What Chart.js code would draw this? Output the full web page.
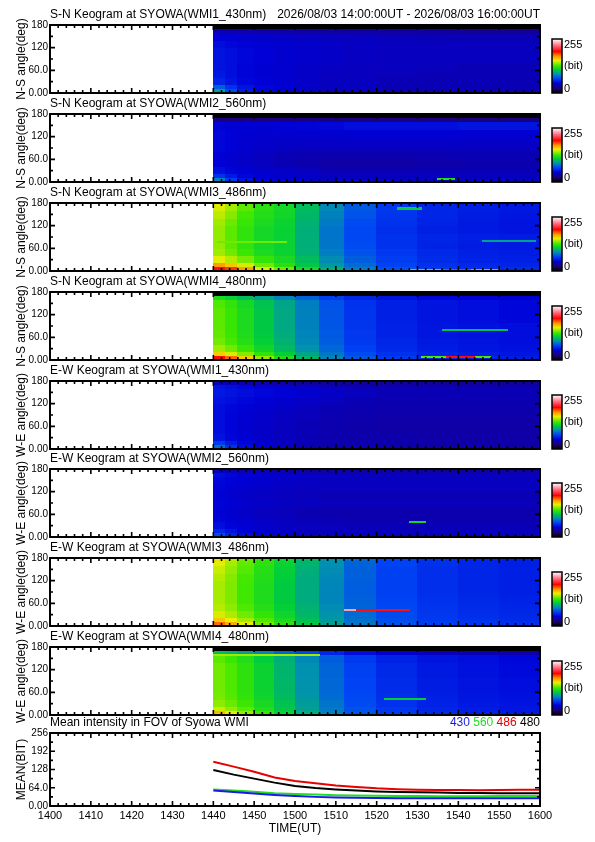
<!DOCTYPE html>
<html>
<head>
<meta charset="utf-8">
<script src="https://cdn.jsdelivr.net/npm/chart.js@4.4.1/dist/chart.umd.min.js"></script>
<style>
  body { margin: 0; background: #fff; width: 595px; height: 842px; position: relative; overflow: hidden; }
  canvas { position: absolute; left: 0; }
</style>
</head>
<body>
<script>
// ---- data ----
// keogram cells: time edges in minutes after 14:00 UT, angle edges in degrees
const timeEdges = [40, 43, 46, 50, 55, 60, 66, 72, 80, 90, 100, 110, 120];
const angleEdges = [0, 5, 12, 22, 40, 60, 80, 100, 120, 140, 160, 172, 180];

// rows go from 0 deg (first) up to 180 deg (last), values in bit (0-255)
const keoSN430 = [
  [60, 40, 32, 30, 28, 28, 28, 28, 28, 28, 28, 28],
  [95, 70, 55, 48, 45, 42, 40, 40, 38, 38, 38, 38],
  [75, 62, 52, 48, 45, 42, 40, 40, 38, 38, 38, 38],
  [58, 52, 48, 46, 44, 42, 40, 40, 38, 38, 38, 38],
  [54, 50, 47, 45, 44, 42, 40, 40, 39, 38, 38, 38],
  [52, 50, 47, 45, 44, 42, 41, 40, 40, 39, 38, 38],
  [52, 50, 48, 46, 44, 43, 42, 41, 40, 40, 40, 40],
  [52, 50, 48, 46, 44, 43, 42, 41, 40, 40, 40, 40],
  [50, 48, 46, 45, 44, 43, 42, 41, 40, 40, 40, 40],
  [46, 45, 44, 43, 42, 41, 40, 40, 39, 38, 38, 38],
  [36, 35, 34, 33, 33, 32, 32, 32, 31, 31, 30, 30],
  [0, 0, 0, 0, 0, 0, 0, 0, 0, 0, 0, 0]
];
const keoSN560 = [
  [70, 50, 42, 40, 38, 36, 35, 35, 34, 34, 34, 34],
  [85, 65, 52, 46, 44, 42, 40, 40, 40, 40, 40, 40],
  [62, 54, 48, 45, 43, 42, 40, 40, 40, 40, 40, 40],
  [50, 47, 45, 43, 42, 40, 38, 37, 37, 38, 38, 38],
  [46, 44, 42, 40, 38, 36, 34, 34, 34, 35, 36, 36],
  [46, 44, 42, 40, 38, 37, 36, 36, 36, 37, 38, 38],
  [48, 46, 44, 42, 41, 40, 40, 40, 40, 40, 40, 40],
  [48, 46, 44, 43, 42, 42, 42, 42, 42, 42, 42, 42],
  [48, 46, 45, 44, 44, 44, 44, 45, 45, 45, 45, 45],
  [46, 45, 45, 45, 46, 47, 48, 50, 50, 50, 52, 52],
  [25, 25, 25, 25, 25, 25, 25, 25, 25, 25, 25, 25],
  [0, 0, 0, 0, 0, 0, 0, 0, 0, 0, 0, 0]
];
const keoSN486 = [
  [230, 212, 190, 165, 145, 128, 110, 92, 78, 70, 66, 64],
  [200, 188, 172, 152, 135, 118, 100, 84, 72, 65, 61, 60],
  [172, 162, 150, 135, 122, 108, 92, 79, 68, 62, 59, 58],
  [152, 145, 136, 125, 117, 104, 88, 75, 66, 60, 57, 56],
  [142, 135, 127, 118, 113, 100, 84, 72, 64, 59, 56, 55],
  [140, 132, 124, 116, 112, 99, 82, 70, 62, 57, 55, 54],
  [140, 132, 124, 116, 112, 99, 81, 69, 62, 58, 56, 55],
  [140, 132, 124, 116, 112, 99, 81, 69, 61, 56, 54, 52],
  [142, 134, 126, 118, 113, 100, 83, 70, 62, 57, 54, 52],
  [146, 138, 128, 120, 115, 102, 85, 72, 63, 58, 55, 53],
  [150, 142, 132, 122, 116, 104, 87, 74, 64, 58, 56, 54],
  [152, 142, 132, 122, 116, 104, 87, 74, 64, 58, 56, 54]
];
const keoSN480 = [
  [0, 0, 0, 0, 0, 0, 0, 0, 0, 0, 0, 0],
  [195, 180, 160, 140, 120, 102, 86, 74, 65, 60, 57, 55],
  [160, 150, 138, 124, 110, 96, 82, 70, 62, 57, 55, 53],
  [142, 135, 126, 115, 103, 90, 78, 67, 59, 55, 53, 51],
  [135, 129, 121, 111, 100, 87, 75, 65, 58, 54, 52, 50],
  [133, 127, 119, 109, 98, 86, 74, 64, 57, 53, 51, 50],
  [132, 126, 118, 108, 97, 85, 73, 63, 57, 53, 51, 50],
  [132, 126, 118, 108, 97, 85, 73, 63, 56, 52, 50, 48],
  [132, 126, 118, 108, 97, 85, 73, 63, 56, 52, 50, 48],
  [130, 124, 116, 106, 96, 84, 72, 62, 56, 52, 50, 48],
  [118, 112, 104, 96, 86, 76, 66, 58, 52, 48, 46, 45],
  [0, 0, 0, 0, 0, 0, 0, 0, 0, 0, 0, 0]
];
const keoEW430 = [
  [45, 38, 34, 32, 30, 30, 30, 30, 30, 30, 30, 30],
  [80, 62, 50, 44, 40, 38, 36, 36, 35, 35, 35, 35],
  [65, 55, 48, 44, 40, 38, 36, 36, 35, 35, 35, 35],
  [52, 48, 45, 42, 40, 38, 36, 35, 35, 34, 34, 34],
  [50, 47, 44, 42, 40, 38, 36, 35, 34, 34, 34, 34],
  [50, 47, 44, 42, 40, 38, 36, 35, 34, 34, 34, 34],
  [50, 47, 45, 43, 41, 39, 37, 36, 35, 35, 35, 35],
  [50, 48, 46, 44, 42, 40, 38, 37, 36, 36, 36, 36],
  [52, 50, 48, 46, 44, 42, 40, 38, 37, 37, 37, 37],
  [54, 52, 50, 48, 46, 44, 42, 40, 38, 38, 38, 38],
  [52, 50, 48, 46, 44, 42, 40, 38, 37, 37, 37, 37],
  [40, 38, 36, 35, 34, 33, 32, 32, 32, 32, 32, 32]
];
const keoEW560 = [
  [55, 45, 40, 38, 36, 35, 35, 35, 34, 34, 34, 34],
  [70, 58, 50, 45, 42, 40, 40, 40, 40, 40, 40, 40],
  [58, 52, 47, 44, 42, 40, 40, 40, 40, 40, 40, 40],
  [50, 47, 45, 43, 41, 40, 39, 38, 38, 38, 38, 38],
  [47, 45, 43, 41, 40, 38, 37, 36, 36, 36, 36, 36],
  [46, 44, 42, 40, 39, 37, 36, 36, 36, 36, 36, 36],
  [47, 45, 43, 42, 41, 40, 39, 39, 39, 39, 39, 39],
  [46, 44, 42, 41, 40, 39, 38, 38, 38, 38, 38, 38],
  [47, 45, 44, 42, 41, 40, 40, 40, 40, 40, 40, 40],
  [48, 46, 45, 44, 42, 41, 40, 40, 40, 40, 40, 40],
  [50, 48, 46, 44, 43, 42, 41, 40, 40, 40, 40, 40],
  [40, 38, 36, 35, 34, 33, 33, 33, 33, 33, 33, 33]
];
const keoEW486 = [
  [70, 66, 62, 58, 55, 52, 50, 48, 46, 45, 45, 45],
  [180, 168, 152, 136, 122, 108, 94, 82, 72, 66, 63, 61],
  [162, 153, 142, 130, 118, 105, 92, 80, 71, 65, 62, 60],
  [150, 144, 135, 125, 114, 102, 90, 79, 70, 64, 61, 59],
  [145, 139, 130, 121, 111, 100, 88, 77, 69, 63, 60, 58],
  [143, 137, 128, 119, 109, 98, 86, 76, 68, 62, 59, 57],
  [143, 137, 128, 119, 109, 98, 86, 75, 67, 61, 58, 56],
  [143, 137, 128, 119, 109, 98, 86, 75, 67, 61, 58, 56],
  [145, 138, 129, 120, 110, 98, 87, 76, 67, 61, 58, 56],
  [148, 140, 131, 121, 111, 99, 88, 76, 67, 61, 58, 56],
  [152, 143, 133, 123, 113, 101, 89, 77, 68, 62, 58, 56],
  [155, 145, 134, 124, 114, 102, 90, 78, 68, 62, 58, 56]
];
const keoEW480 = [
  [30, 28, 26, 25, 24, 24, 24, 24, 24, 24, 24, 24],
  [165, 152, 140, 126, 112, 98, 85, 73, 65, 59, 56, 54],
  [148, 140, 132, 120, 108, 95, 83, 72, 64, 58, 55, 53],
  [139, 134, 127, 117, 106, 93, 81, 70, 62, 57, 54, 52],
  [136, 131, 124, 114, 103, 91, 79, 69, 61, 56, 53, 51],
  [135, 130, 123, 113, 102, 90, 78, 68, 60, 55, 52, 50],
  [135, 130, 123, 113, 102, 90, 78, 68, 60, 55, 52, 50],
  [135, 130, 123, 113, 101, 89, 77, 67, 59, 54, 51, 49],
  [135, 130, 123, 113, 101, 89, 77, 67, 59, 54, 51, 49],
  [132, 127, 120, 110, 99, 87, 75, 65, 57, 52, 50, 48],
  [105, 100, 94, 86, 77, 68, 58, 50, 44, 40, 38, 36],
  [0, 0, 0, 0, 0, 0, 0, 0, 0, 0, 0, 0]
];

// thin bright features: [start min, end min, low deg, high deg, bit]
const streaksSN430 = [];
const streaksSN560 = [[95, 99, 6, 10, 120]];
const streaksSN486 = [[41, 58, 76, 79, 135], [85, 91, 164, 167, 110], [106, 119, 78, 81, 95],
                      [88, 110, 1, 5, 130], [96, 103, 1, 5, 205]];
const streaksSN480 = [[91, 108, 6, 10, 130], [97, 104, 6, 10, 200], [96, 112, 79, 82, 105]];
const streaksEW430 = [];
const streaksEW560 = [[88, 92, 39, 42, 115]];
const streaksEW486 = [[72, 75, 41, 44, 235], [75, 88, 41, 44, 200]];
const streaksEW480 = [[40, 66, 157, 160, 142], [82, 92, 40, 43, 110]];

const angleTicks = [0, 60, 120, 180];
const angleTickText = ['0.00', '60.0', '120', '180'];

// mean intensity in FOV, every 5 minutes from 14:40
const meanTimes = [40, 45, 50, 55, 60, 65, 70, 75, 80, 85, 90, 95, 100, 105, 110, 115, 120];
const mean430 = [54, 49, 44, 39, 35, 32, 30, 29, 28, 27, 27, 27, 27, 27, 27, 27, 27];
const mean560 = [58, 54, 50, 45, 42, 40, 38, 37, 36, 35, 35, 34, 34, 34, 35, 35, 35];
const mean486 = [155, 138, 120, 100, 88, 80, 72, 67, 62, 59, 57, 56, 56, 55, 56, 57, 57];
const mean480 = [126, 110, 96, 82, 70, 63, 58, 54, 51, 49, 48, 47, 46, 46, 45, 45, 45];
const meanTicks = [0, 64, 128, 192, 256];
const meanTickText = ['0.00', '64.0', '128', '192', '256'];
const timeTicks = [0, 10, 20, 30, 40, 50, 60, 70, 80, 90, 100, 110, 120];
const timeTickText = ['1400', '1410', '1420', '1430', '1440', '1450', '1500',
                      '1510', '1520', '1530', '1540', '1550', '1600'];

const panelTitles = [
  'S-N Keogram at SYOWA(WMI1_430nm)', 'S-N Keogram at SYOWA(WMI2_560nm)',
  'S-N Keogram at SYOWA(WMI3_486nm)', 'S-N Keogram at SYOWA(WMI4_480nm)',
  'E-W Keogram at SYOWA(WMI1_430nm)', 'E-W Keogram at SYOWA(WMI2_560nm)',
  'E-W Keogram at SYOWA(WMI3_486nm)', 'E-W Keogram at SYOWA(WMI4_480nm)'
];
const panelAxis = ['N-S angle(deg)', 'N-S angle(deg)', 'N-S angle(deg)', 'N-S angle(deg)',
                   'W-E angle(deg)', 'W-E angle(deg)', 'W-E angle(deg)', 'W-E angle(deg)'];
const keoGrids = [keoSN430, keoSN560, keoSN486, keoSN480, keoEW430, keoEW560, keoEW486, keoEW480];
const keoStreaks = [streaksSN430, streaksSN560, streaksSN486, streaksSN480,
                    streaksEW430, streaksEW560, streaksEW486, streaksEW480];
const headerText = '2026/08/03 14:00:00UT - 2026/08/03 16:00:00UT';

// ---- style ----
const FONT = '"Liberation Sans", Arial, Helvetica, sans-serif';
const panelTops = [25, 114, 203, 292, 381, 469, 558, 647];
const CMAP = [
  [0, [0, 0, 0]], [0.08, [30, 0, 110]], [0.18, [0, 0, 215]], [0.27, [0, 70, 245]],
  [0.35, [0, 145, 175]], [0.43, [0, 205, 60]], [0.5, [60, 232, 0]], [0.6, [235, 238, 0]],
  [0.68, [255, 150, 0]], [0.77, [255, 0, 0]], [0.88, [255, 110, 130]], [1, [255, 255, 255]]
];

Chart.defaults.font.family = FONT;
Chart.defaults.color = '#000';

function cmap(v) {
  const f = Math.max(0, Math.min(1, v / 255));
  for (let i = 0; i < CMAP.length - 1; i++) {
    const [f0, c0] = CMAP[i], [f1, c1] = CMAP[i + 1];
    if (f <= f1) {
      const t = (f - f0) / (f1 - f0);
      const c = c0.map((a, k) => Math.round(a + (c1[k] - a) * t));
      return `rgb(${c[0]},${c[1]},${c[2]})`;
    }
  }
  return 'rgb(255,255,255)';
}

function heatmap(grid, streaks) {
  return {
    id: 'heatmap',
    beforeDatasetsDraw(chart) {
      const { ctx, chartArea: a, scales: { x, y } } = chart;
      ctx.save();
      ctx.beginPath();
      ctx.rect(a.left, a.top, a.width, a.height);
      ctx.clip();
      const cell = (t0, t1, g0, g1, v) => {
        const x0 = Math.floor(x.getPixelForValue(t0));
        const x1 = Math.ceil(x.getPixelForValue(t1));
        const y0 = Math.floor(y.getPixelForValue(g1));
        const y1 = Math.ceil(y.getPixelForValue(g0));
        ctx.fillStyle = cmap(v);
        ctx.fillRect(x0, y0, x1 - x0, Math.max(1, y1 - y0));
      };
      grid.forEach((row, r) => row.forEach((v, c) =>
        cell(timeEdges[c], timeEdges[c + 1], angleEdges[r], angleEdges[r + 1], v)));
      streaks.forEach(s => cell(s[0], s[1], s[2], s[3], s[4]));
      ctx.restore();
    }
  };
}

function frame(yMinor, yMajor) {
  return {
    id: 'frame',
    afterDraw(chart) {
      const { ctx, chartArea: a, scales: { x, y } } = chart;
      ctx.save();
      ctx.strokeStyle = '#000';
      ctx.lineWidth = 1.6;
      ctx.beginPath();
      for (let t = 0; t <= 120; t += 2) {
        const px = x.getPixelForValue(t);
        const len = t % 10 === 0 ? 5 : 3;
        ctx.moveTo(px, a.top); ctx.lineTo(px, a.top + len);
        ctx.moveTo(px, a.bottom); ctx.lineTo(px, a.bottom - len);
      }
      for (let v = y.min; v <= y.max; v += yMinor) {
        const py = y.getPixelForValue(v);
        const len = v % yMajor === 0 ? 5 : 3;
        ctx.moveTo(a.left, py); ctx.lineTo(a.left + len, py);
        ctx.moveTo(a.right, py); ctx.lineTo(a.right - len, py);
      }
      ctx.stroke();
      ctx.lineWidth = 2;
      ctx.strokeRect(a.left, a.top, a.width, a.height);
      ctx.restore();
    }
  };
}

const colorbar = {
  id: 'colorbar',
  afterDraw(chart) {
    const { ctx, chartArea: a } = chart;
    const x0 = a.right + 12, w = 10, top = a.top + 14, bot = a.bottom;
    ctx.save();
    const g = ctx.createLinearGradient(0, bot, 0, top);
    CMAP.forEach(([f, c]) => g.addColorStop(f, `rgb(${c[0]},${c[1]},${c[2]})`));
    ctx.fillStyle = g;
    ctx.fillRect(x0, top, w, bot - top);
    ctx.strokeStyle = '#000';
    ctx.lineWidth = 1.5;
    ctx.strokeRect(x0, top, w, bot - top);
    ctx.fillStyle = '#000';
    ctx.font = '11px ' + FONT;
    ctx.textAlign = 'left';
    ctx.textBaseline = 'top';
    ctx.fillText('255', x0 + w + 2, top);
    ctx.textBaseline = 'middle';
    ctx.fillText('(bit)', x0 + w + 2, (top + bot) / 2);
    ctx.textBaseline = 'bottom';
    ctx.fillText('0', x0 + w + 2, bot + 1);
    ctx.restore();
  }
};

const header = {
  id: 'header',
  afterDraw(chart) {
    const { ctx, chartArea: a } = chart;
    ctx.save();
    ctx.font = '12px ' + FONT;
    ctx.fillStyle = '#000';
    ctx.textAlign = 'right';
    ctx.textBaseline = 'middle';
    ctx.fillText(headerText, a.right, a.top - 10.5);
    ctx.restore();
  }
};

const wavelengthLegend = {
  id: 'wavelengthLegend',
  afterDraw(chart) {
    const { ctx, chartArea: a } = chart;
    ctx.save();
    ctx.font = '12px ' + FONT;
    ctx.textAlign = 'right';
    ctx.textBaseline = 'middle';
    let xr = a.right;
    const sp = ctx.measureText(' ').width;
    for (let i = chart.data.datasets.length - 1; i >= 0; i--) {
      const ds = chart.data.datasets[i];
      ctx.fillStyle = ds.borderColor;
      ctx.fillText(ds.label, xr, a.top - 10.5);
      xr -= ctx.measureText(ds.label).width + sp;
    }
    ctx.restore();
  }
};

function addCanvas(top, height) {
  const cv = document.createElement('canvas');
  cv.width = 595;
  cv.height = height;
  cv.style.top = top + 'px';
  document.body.appendChild(cv);
  return cv;
}

const titleOpts = text => ({
  display: true, text, align: 'start', fullSize: false, color: '#000',
  font: { family: FONT, size: 12, weight: 'normal', lineHeight: 1.25 },
  padding: { top: 3, bottom: 3 }
});

const noGrid = { display: false, drawTicks: false };

panelTops.forEach((top, i) => {
  const cv = addCanvas(top - 21, 97);
  const extra = [heatmap(keoGrids[i], keoStreaks[i]), frame(30, 60), colorbar];
  if (i === 0) extra.push(header);
  new Chart(cv, {
    type: 'scatter',
    data: { datasets: [] },
    options: {
      responsive: false,
      animation: false,
      events: [],
      layout: { padding: { left: 0, right: 55, top: 0, bottom: 6 } },
      plugins: {
        legend: { display: false },
        tooltip: { enabled: false },
        title: titleOpts(panelTitles[i])
      },
      scales: {
        x: { type: 'linear', display: false, min: 0, max: 120 },
        y: {
          type: 'linear', min: 0, max: 180,
          grid: noGrid, border: { display: false },
          ticks: {
            stepSize: 60, padding: 2, color: '#000',
            font: { family: FONT, size: 10 },
            callback: v => angleTickText[angleTicks.indexOf(v)]
          },
          title: {
            display: true, text: panelAxis[i], color: '#000',
            font: { family: FONT, size: 12 }, padding: { top: 14, bottom: 0 }
          },
          afterFit: s => { s.width = 50; }
        }
      }
    },
    plugins: extra
  });
});

// mean intensity panel
const meanCanvas = addCanvas(712, 130);
const series = (vals) => meanTimes.map((t, k) => ({ x: t, y: vals[k] }));
new Chart(meanCanvas, {
  type: 'line',
  data: {
    datasets: [
      { label: '430', data: series(mean430), borderColor: '#1a1ae6' },
      { label: '560', data: series(mean560), borderColor: '#22dd22' },
      { label: '486', data: series(mean486), borderColor: '#e60000' },
      { label: '480', data: series(mean480), borderColor: '#000000' }
    ].map(d => Object.assign(d, { borderWidth: 2, pointRadius: 0, tension: 0, fill: false }))
  },
  options: {
    responsive: false,
    animation: false,
    events: [],
    layout: { padding: { left: 0, right: 55, top: 0, bottom: 6 } },
    plugins: {
      legend: { display: false },
      tooltip: { enabled: false },
      title: titleOpts('Mean intensity in FOV of Syowa WMI')
    },
    scales: {
      x: {
        type: 'linear', min: 0, max: 120,
        grid: noGrid, border: { display: false },
        ticks: {
          stepSize: 10, autoSkip: false, maxRotation: 0, padding: 3, color: '#000',
          font: { family: FONT, size: 11 },
          callback: v => timeTickText[timeTicks.indexOf(v)]
        },
        title: {
          display: true, text: 'TIME(UT)', color: '#000',
          font: { family: FONT, size: 12 }, padding: { top: 0, bottom: 0 }
        },
        afterFit: s => { s.height = 30; }
      },
      y: {
        type: 'linear', min: 0, max: 256,
        grid: noGrid, border: { display: false },
        ticks: {
          stepSize: 64, padding: 2, color: '#000',
          font: { family: FONT, size: 10 },
          callback: v => meanTickText[meanTicks.indexOf(v)]
        },
        title: {
          display: true, text: 'MEAN(BIT)', color: '#000',
          font: { family: FONT, size: 12 }, padding: { top: 14, bottom: 0 }
        },
        afterFit: s => { s.width = 50; }
      }
    }
  },
  plugins: [frame(32, 64), wavelengthLegend]
});
</script>
</body>
</html>
